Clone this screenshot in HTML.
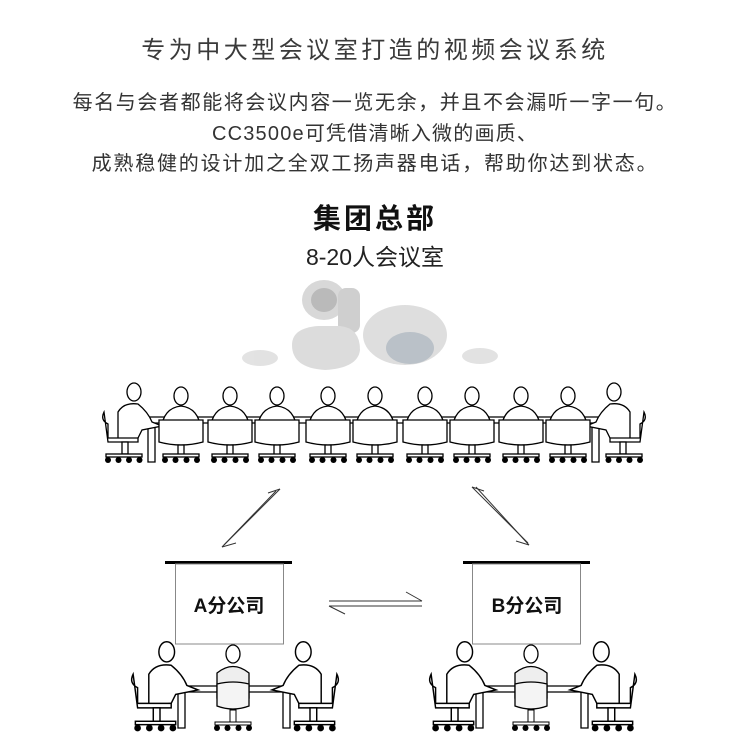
<!DOCTYPE html>
<html><head><meta charset="utf-8"><style>
body{margin:0;background:#fff;width:750px;height:749px;overflow:hidden;position:relative;font-family:"Liberation Sans","Noto Sans CJK SC",sans-serif;}
.t{position:absolute;left:0;width:750px;text-align:center;white-space:nowrap;color:#333;}
</style></head><body>
<div class="t" style="top:30px;font-size:24px;letter-spacing:3.5px;color:#3a3a3a">专为中大型会议室打造的视频会议系统</div>
<div class="t" style="top:86px;font-size:20px;letter-spacing:1.6px;color:#333">每名与会者都能将会议内容一览无余，并且不会漏听一字一句。</div>
<div class="t" style="top:117px;font-size:20px;letter-spacing:1.2px;color:#333">CC3500e可凭借清晰入微的画质、</div>
<div class="t" style="top:147px;font-size:20px;letter-spacing:1.8px;color:#333">成熟稳健的设计加之全双工扬声器电话，帮助你达到状态。</div>
<div class="t" style="top:197px;font-size:28px;font-weight:bold;letter-spacing:3px;color:#111">集团总部</div>
<div class="t" style="top:238px;font-size:23px;color:#222">8-20人会议室</div>
<svg width="750" height="749" style="position:absolute;left:0;top:0" xmlns="http://www.w3.org/2000/svg">
<defs>
<g id="back" fill="#fff" stroke="#000" stroke-width="1.3">
  <ellipse cx="0" cy="-64" rx="7" ry="9"/>
  <path d="M-20,-30 Q-18,-52 0,-54 Q18,-52 20,-30 Z"/>
  <path d="M-22,-40 L22,-40 L22,-18 Q0,-12 -22,-18 Z"/>
  <rect x="-3" y="-15" width="6" height="10"/>
  <rect x="-18" y="-6" width="36" height="3"/>
  <g fill="#000" stroke="none"><circle cx="-16" cy="0" r="3"/><circle cx="-5.5" cy="0" r="3"/><circle cx="5.5" cy="0" r="3"/><circle cx="16" cy="0" r="3"/></g>
</g>
<g id="side" fill="#fff" stroke="#000" stroke-width="1.3">
  <ellipse cx="6" cy="-68" rx="7" ry="9"/>
  <path d="M-10,-20 L-10,-48 Q-4,-58 10,-56 Q20,-48 24,-38 L34,-34 L14,-30 L10,-22 Z"/>
  <path d="M-24,-48 Q-28,-40 -20,-36 L-20,-22 L10,-22 L10,-18 L-20,-18 Z"/>
  <rect x="-6" y="-18" width="6" height="12"/>
  <rect x="-22" y="-6" width="36" height="3"/>
  <g fill="#000" stroke="none"><circle cx="-20" cy="0" r="3"/><circle cx="-9.5" cy="0" r="3"/><circle cx="1" cy="0" r="3"/><circle cx="11.5" cy="0" r="3"/></g>
</g>
</defs>
<g opacity="0.8">
<ellipse cx="324" cy="300" rx="22" ry="20" fill="#cfcfcf"/>
<ellipse cx="324" cy="300" rx="13" ry="12" fill="#aaa"/>
<rect x="338" y="288" width="22" height="45" rx="8" fill="#c4c4c4"/>
<path d="M292,345 Q292,328 318,326 L340,326 Q360,328 360,350 Q358,368 325,370 Q292,368 292,345Z" fill="#d4d4d4"/>
<ellipse cx="405" cy="335" rx="42" ry="30" fill="#d6d6d6"/>
<ellipse cx="410" cy="348" rx="24" ry="16" fill="#a9b2bb"/>
<ellipse cx="260" cy="358" rx="18" ry="8" fill="#dcdcdc"/>
<ellipse cx="480" cy="356" rx="18" ry="8" fill="#dcdcdc"/>
</g>
<g fill="none" stroke="#000" stroke-width="1.3">
<line x1="135" y1="417" x2="605" y2="417"/><line x1="135" y1="423" x2="605" y2="423"/>
<path d="M148,423 L148,462 L155,462 L155,423"/><path d="M592,423 L592,462 L599,462 L599,423"/>
</g>
<use href="#side" x="128" y="460"/>
<use href="#side" transform="translate(620,460) scale(-1,1)"/>
<use href="#back" x="181" y="460"/><use href="#back" x="230" y="460"/><use href="#back" x="277" y="460"/>
<use href="#back" x="328" y="460"/><use href="#back" x="375" y="460"/><use href="#back" x="425" y="460"/>
<use href="#back" x="472" y="460"/><use href="#back" x="521" y="460"/><use href="#back" x="568" y="460"/>
<g fill="none" stroke="#333" stroke-width="1">
<line x1="280" y1="489" x2="224" y2="545"/><path d="M280,489 L268,493"/>
<line x1="276" y1="491" x2="222" y2="547"/><path d="M222,547 L236,543"/>
<line x1="472" y1="487" x2="528" y2="543"/><path d="M472,487 L484,491"/>
<line x1="476" y1="487" x2="529" y2="545"/><path d="M529,545 L516,541"/>
<line x1="329" y1="601" x2="422" y2="601"/><path d="M422,601 L406,592"/>
<line x1="329" y1="606" x2="422" y2="606"/><path d="M329,606 L345,614"/>
</g>
<rect x="165" y="561" width="127" height="3" fill="#000"/>
<rect x="175.5" y="564" width="108" height="80" fill="#fff" stroke="#888"/>
<rect x="463" y="561" width="127" height="3" fill="#000"/>
<rect x="472.5" y="564" width="108" height="80" fill="#fff" stroke="#888"/>
<text x="229" y="612" text-anchor="middle" font-size="19" font-weight="bold" font-family="Liberation Sans,Noto Sans CJK SC,sans-serif" fill="#111">A分公司</text>
<text x="527" y="612" text-anchor="middle" font-size="19" font-weight="bold" font-family="Liberation Sans,Noto Sans CJK SC,sans-serif" fill="#111">B分公司</text>
<g id="room">
<g fill="none" stroke="#000" stroke-width="1.3">
<line x1="165" y1="686" x2="305" y2="686"/><line x1="165" y1="692" x2="305" y2="692"/>
<path d="M178,692 L178,728 L185,728 L185,692"/><path d="M283,692 L283,728 L290,728 L290,692"/>
</g>
<use href="#side" transform="translate(160,728) scale(1.12)"/>
<use href="#side" transform="translate(310,728) scale(-1.12,1.12)"/>
<g transform="translate(233,728)">
<ellipse cx="0" cy="-74" rx="7" ry="9" fill="#fff" stroke="#000" stroke-width="1.3"/>
<path d="M-16,-30 L-16,-55 Q0,-68 16,-55 L16,-30 Z" fill="#eee" stroke="#000" stroke-width="1.3"/>
<path d="M-16,-44 Q0,-48 16,-44 L16,-22 Q0,-16 -16,-22 Z" fill="#f4f4f4" stroke="#000" stroke-width="1.3"/>
<rect x="-3" y="-18" width="6" height="12" fill="#fff" stroke="#000"/>
<rect x="-18" y="-6" width="36" height="3" fill="#fff" stroke="#000"/>
<g fill="#000"><circle cx="-16" cy="0" r="3"/><circle cx="-5.5" cy="0" r="3"/><circle cx="5.5" cy="0" r="3"/><circle cx="16" cy="0" r="3"/></g>
</g>
</g>
<use href="#room" x="298" y="0"/>
</svg>
</body></html>
